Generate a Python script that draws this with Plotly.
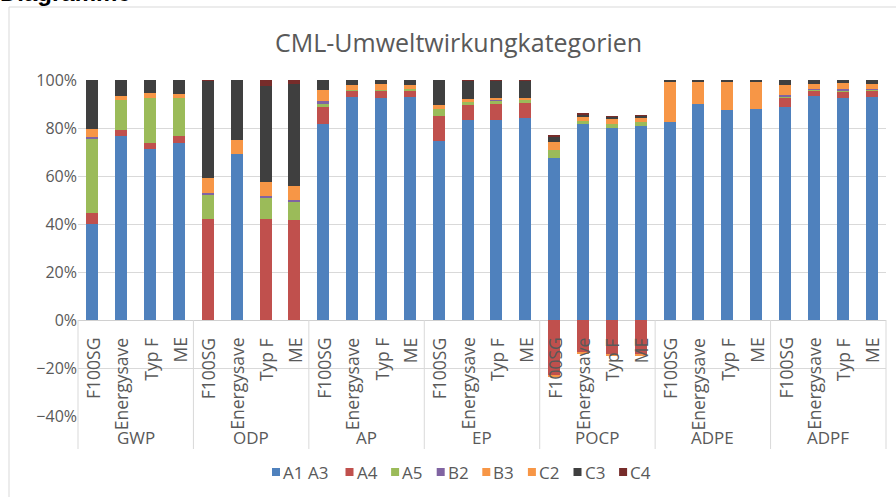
import plotly.graph_objects as go

# ---------------- data ----------------
groups = ["GWP", "ODP", "AP", "EP", "POCP", "ADPE", "ADPF"]
variants = ["F100SG", "Energysave", "Typ F", "ME"]
series_names = ["A1 A3", "A4", "A5", "B2", "B3", "C2", "C3", "C4"]
series_colors = ["#4F81BD", "#C0504D", "#9BBB59", "#8064A2", "#F79646", "#F79646", "#3F3F3F", "#772C2A"]

# values in percent, per bar (group-major, variant-minor)
a1a3 = [40.0, 76.8, 71.3, 73.6,   0.0, 69.2, 0.0, 0.0,    81.8, 93.1, 92.5, 93.1,
        74.7, 83.2, 83.2, 84.3,   67.6, 81.5, 79.9, 80.7, 82.6, 89.9, 87.4, 87.9,
        88.6, 93.5, 92.6, 93.1]
a4 = [4.4, 2.4, 2.6, 2.9,   42.2, 0.0, 42.2, 41.8,   7.1, 2.6, 3.1, 2.6,
      10.3, 6.5, 6.8, 6.3,  -23.0, -13.6, -14.3, -14.4,   0.0, 0.0, 0.0, 0.0,
      4.2, 2.1, 2.5, 2.5]
a5 = [31.3, 12.3, 18.7, 15.9,   10.2, 0.0, 8.8, 7.5,   1.5, 0.3, 0.4, 0.7,
      2.8, 1.2, 1.4, 1.1,   3.1, 1.6, 1.6, 1.7,   0.0, 0.0, 0.0, 0.0,
      0.5, 0.3, 0.4, 0.3]
b2 = [0.4, 0.0, 0.0, 0.0,   0.4, 0.0, 0.6, 0.7,   0.7, 0.0, 0.0, 0.0,
      0.0, 0.0, 0.3, 0.0,   0.0, 0.0, 0.0, 0.0,   0.0, 0.0, 0.0, 0.0,
      0.6, 0.5, 0.8, 0.5]
b3 = [0.0, 0.0, 0.0, 0.0,   0.0, 0.0, 0.0, 0.0,   0.0, 0.0, 0.0, 0.0,
      0.0, 0.0, 0.0, 0.0,   -0.4, -0.2, -0.3, -0.4,   0.0, 0.0, 0.0, 0.0,
      0.0, 0.0, 0.0, 0.0]
c2 = [3.5, 1.8, 2.0, 1.8,   6.5, 5.9, 6.0, 5.7,   4.6, 2.1, 2.2, 1.7,
      1.6, 1.2, 1.0, 0.9,   3.6, 1.6, 2.1, 1.6,   16.4, 9.1, 11.9, 11.1,
      4.2, 2.1, 2.3, 2.0]
c3 = [20.4, 6.7, 5.4, 5.8,   40.4, 24.9, 40.0, 42.5,   4.3, 1.9, 1.8, 1.9,
      10.6, 7.6, 7.0, 7.1,   2.1, 1.1, 1.0, 1.0,   1.0, 1.0, 0.7, 1.0,
      1.9, 1.5, 1.4, 1.6]
c4 = [0.0, 0.0, 0.0, 0.0,   0.3, 0.0, 2.4, 1.8,   0.0, 0.0, 0.0, 0.0,
      0.0, 0.3, 0.3, 0.3,   0.3, 0.3, 0.3, 0.3,   0.0, 0.0, 0.0, 0.0,
      0.0, 0.0, 0.0, 0.0]

y_ticks = [-0.4, -0.2, 0.0, 0.2, 0.4, 0.6, 0.8, 1.0]
title_text = "CML-Umweltwirkungkategorien"

series_values = [a1a3, a4, a5, b2, b3, c2, c3, c4]

# ---------------- figure ----------------
W, H = 896, 497
ML, MR, MT, MB = 78, 10, 80, 81
PW, PH = W - ML - MR, H - MT - MB
FONT = "Open Sans"
GRAY = "#595959"
GRID = "#D9D9D9"

n_bars = len(groups) * len(variants)
xs = list(range(n_bars))

def px_to_paper_x(px):
    return (px - ML) / PW

def px_to_paper_y(py):
    return (MT + PH - py) / PH

fig = go.Figure()
for name, color, vals in zip(series_names, series_colors, series_values):
    fig.add_trace(go.Bar(
        x=xs, y=[v / 100 for v in vals], name=name,
        marker=dict(color=color, line=dict(width=0)),
        width=0.42, showlegend=False,
        hovertemplate=name + ": %{y:.1%}<extra></extra>",
    ))

annotations = []
shapes = []

# sub-category labels (rotated), placed at the 0 line
for i in range(n_bars):
    annotations.append(dict(
        x=i, y=0, xref="x", yref="y", text=variants[i % len(variants)],
        textangle=-90, xanchor="center", yanchor="top", yshift=-16,
        showarrow=False, font=dict(family=FONT, size=17.5, color=GRAY),
    ))

# group labels and separators
nv = len(variants)
for g, name in enumerate(groups):
    annotations.append(dict(
        x=g * nv + (nv - 1) / 2, y=px_to_paper_y(437), xref="x", yref="paper",
        text=name, showarrow=False, xanchor="center", yanchor="middle",
        font=dict(family=FONT, size=17, color=GRAY),
    ))
for g in range(len(groups) + 1):
    xp = (g * nv) / n_bars
    shapes.append(dict(type="line", xref="paper", yref="paper",
                       x0=xp, x1=xp, y0=px_to_paper_y(449), y1=px_to_paper_y(320),
                       line=dict(color=GRID, width=1)))

# custom legend
lx = 272
ly = 472
for name, color in zip(series_names, series_colors):
    shapes.append(dict(type="rect", xref="paper", yref="paper",
                       x0=px_to_paper_x(lx), x1=px_to_paper_x(lx + 8),
                       y0=px_to_paper_y(ly + 4), y1=px_to_paper_y(ly - 4),
                       fillcolor=color, line=dict(width=0)))
    annotations.append(dict(
        x=px_to_paper_x(lx + 9), y=px_to_paper_y(ly), xref="paper", yref="paper",
        text=name, showarrow=False, xanchor="left", yanchor="middle",
        font=dict(family=FONT, size=17, color=GRAY),
    ))
    lx += 27 + 9.3 * len(name)

# title
annotations.append(dict(
    x=px_to_paper_x(458), y=px_to_paper_y(42), xref="paper", yref="paper",
    text=title_text, showarrow=False, xanchor="center", yanchor="middle",
    font=dict(family=FONT, size=25, color=GRAY),
))
# cut-off heading above the chart
annotations.append(dict(
    x=px_to_paper_x(-2), y=px_to_paper_y(8.5), xref="paper", yref="paper",
    text="<b>Diagramme</b>", showarrow=False, xanchor="left", yanchor="bottom",
    font=dict(family="Liberation Sans", size=24, color="#000000"),
))

# chart border
shapes.append(dict(type="rect", xref="paper", yref="paper",
                   x0=px_to_paper_x(9), x1=px_to_paper_x(905),
                   y0=px_to_paper_y(510), y1=px_to_paper_y(7),
                   line=dict(color=GRID, width=1), fillcolor="rgba(0,0,0,0)", layer="below"))

fig.update_layout(
    width=W, height=H,
    margin=dict(l=ML, r=MR, t=MT, b=MB, pad=0),
    barmode="relative",
    plot_bgcolor="white", paper_bgcolor="white",
    font=dict(family=FONT, color=GRAY),
    xaxis=dict(range=[-0.5, n_bars - 0.5], showticklabels=False, showgrid=False,
               zeroline=False, showline=False, ticks=""),
    yaxis=dict(range=[-0.4, 1.0], tickvals=y_ticks, tickformat=".0%",
               showgrid=True, gridcolor=GRID, gridwidth=1,
               zeroline=True, zerolinecolor="#D0D0D0", zerolinewidth=1,
               showline=False, ticks="", ticklen=0,
               tickfont=dict(family=FONT, size=16, color=GRAY)),
    annotations=annotations,
    shapes=shapes,
    showlegend=False,
    bargap=0,
)

fig.write_html("out.html", config={"displayModeBar": False},
               post_script="document.body.style.margin='0';")
